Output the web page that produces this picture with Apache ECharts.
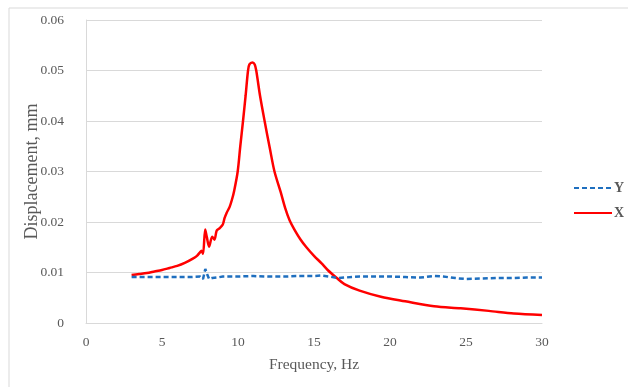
<!DOCTYPE html>
<html>
<head>
<meta charset="utf-8">
<script src="https://cdn.jsdelivr.net/npm/echarts@6/dist/echarts.min.js"></script>
<style>
html,body{margin:0;padding:0;background:#fff;}
#chart{width:628px;height:387px;}
</style>
</head>
<body>
<div id="chart"></div>
<script>
// X-direction displacement (red solid)
var freqX = [3.0, 3.5, 4.0, 4.5, 5.0, 5.5, 6.0, 6.5, 7.0, 7.3, 7.5, 7.6, 7.7, 7.84, 7.95, 8.1, 8.3, 8.45, 8.6, 8.8, 9.0, 9.12, 9.25, 9.45, 9.6, 9.75, 9.98, 10.15, 10.33, 10.5, 10.66, 10.75, 10.95, 11.1, 11.2, 11.45, 11.75, 12.1, 12.4, 12.8, 13.1, 13.4, 13.75, 14.1, 14.5, 15.0, 15.5, 15.9, 16.5, 17.0, 18.0, 19.4, 21.0, 22.9, 24.65, 26.5, 28.15, 30.0];
var dispX = [0.0095, 0.0097, 0.0099, 0.0102, 0.0105, 0.0109, 0.0113, 0.0119, 0.0127, 0.0133, 0.0140, 0.0143, 0.0137, 0.0185, 0.0170, 0.0151, 0.0171, 0.0165, 0.0183, 0.0188, 0.0195, 0.0208, 0.0218, 0.0230, 0.0244, 0.0262, 0.0300, 0.0350, 0.0400, 0.0450, 0.0500, 0.0512, 0.0516, 0.0512, 0.0500, 0.0450, 0.0400, 0.0345, 0.0300, 0.0260, 0.0228, 0.0203, 0.0183, 0.0166, 0.0150, 0.0133, 0.0118, 0.0105, 0.0089, 0.0077, 0.0064, 0.0052, 0.0043, 0.0033, 0.0029, 0.0024, 0.0019, 0.0016];
// Y-direction displacement (blue dashed)
var freqY = [3, 4, 5, 6, 7, 7.5, 7.7, 7.85, 7.95, 8.1, 8.3, 8.6, 9, 10, 11, 12, 13, 14, 15, 15.5, 16, 16.6, 17, 18, 19, 20, 21, 22, 22.9, 23.5, 24.3, 25, 26, 27, 28, 29, 30];
var dispY = [0.0091, 0.0091, 0.0091, 0.0091, 0.0091, 0.0092, 0.0087, 0.0107, 0.0098, 0.0087, 0.0089, 0.0090, 0.0092, 0.0092, 0.0093, 0.0092, 0.0092, 0.0093, 0.0093, 0.0094, 0.0092, 0.0089, 0.0090, 0.0092, 0.0092, 0.0092, 0.0091, 0.0090, 0.0093, 0.0092, 0.0089, 0.0087, 0.0088, 0.0089, 0.0089, 0.0090, 0.0090];
var xTicks = [0, 5, 10, 15, 20, 25, 30];
var yTicks = [0, 0.01, 0.02, 0.03, 0.04, 0.05, 0.06];
var seriesNames = ['Y', 'X'];
var xName = 'Frequency, Hz';
var yName = 'Displacement, mm';

function pairs(xs, ys){ return xs.map(function(x,i){ return [x, ys[i]]; }); }

var font = 'Liberation Serif';
var txt = '#595959';
var chart = echarts.init(document.getElementById('chart'));
chart.setOption({
  animation: false,
  backgroundColor: '#fff',
  graphic: [{
    type: 'rect', left: 6.5, top: 5.5, silent: true,
    shape: {width: 625, height: 400},
    style: {fill: 'none', stroke: '#d9d9d9', lineWidth: 1}
  }],
  grid: {left: 86, right: 86, top: 20, bottom: 64, containLabel: false},
  legend: {
    orient: 'vertical', left: 568, top: 176, itemGap: 11,
    itemWidth: 38, itemHeight: 14,
    data: seriesNames,
    itemStyle: {opacity: 0},
    textStyle: {fontFamily: font, fontSize: 14, fontWeight: 'bold', color: txt, padding: [0,0,0,-3]}
  },
  xAxis: {
    type: 'value', min: xTicks[0], max: xTicks[xTicks.length-1], interval: 5,
    name: xName, nameLocation: 'middle', nameGap: 34,
    nameTextStyle: {fontFamily: font, fontSize: 15.5, color: txt},
    axisLine: {show: true, lineStyle: {color: '#d9d9d9', width: 1}},
    axisTick: {show: false},
    splitLine: {show: false},
    axisLabel: {fontFamily: font, fontSize: 13.5, color: txt, margin: 12}
  },
  yAxis: {
    type: 'value', min: yTicks[0], max: yTicks[yTicks.length-1], interval: 0.01,
    name: yName, nameLocation: 'middle', nameGap: 45, nameRotate: 90,
    nameMoveOverlap: false,
    nameTextStyle: {fontFamily: font, fontSize: 18, color: txt},
    axisLine: {show: true, lineStyle: {color: '#d9d9d9', width: 1}},
    axisTick: {show: false},
    splitLine: {show: true, lineStyle: {color: '#d9d9d9', width: 1}},
    axisLabel: {fontFamily: font, fontSize: 13.5, color: txt, margin: 22,
      formatter: function(v){ return String(+v.toFixed(2)); }}
  },
  series: [{
    name: 'Y', type: 'line', data: pairs(freqY, dispY),
    showSymbol: false, symbol: 'none', smooth: false,
    lineStyle: {color: '#1f6fbf', width: 2.5, type: [5, 3]},
    itemStyle: {color: '#1f6fbf'}, z: 3
  }, {
    name: 'X', type: 'line', data: pairs(freqX, dispX),
    showSymbol: false, symbol: 'none', smooth: 0.3,
    lineStyle: {color: '#ff0000', width: 2.5},
    itemStyle: {color: '#ff0000'}, z: 2
  }]
});
</script>
</body>
</html>
